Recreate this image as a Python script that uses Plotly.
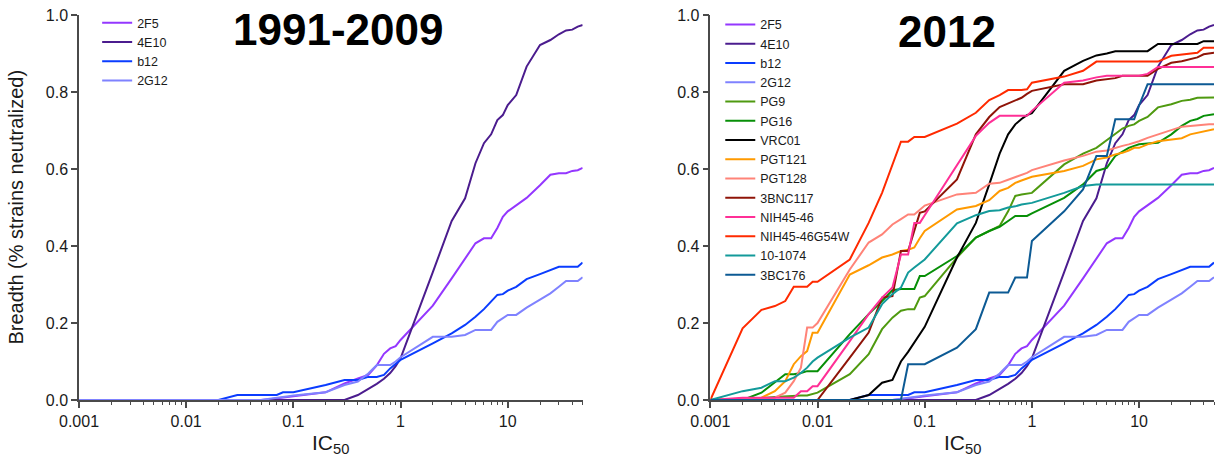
import math
import plotly.graph_objects as go
from plotly.subplots import make_subplots

# IC50 concentrations (ug/ml) at which cumulative breadth is evaluated
IC50_GRID = (
    [0.001, 0.002, 0.003, 0.004, 0.005, 0.006, 0.007, 0.008, 0.009]
    + [0.01, 0.02, 0.03, 0.04, 0.05, 0.06, 0.07, 0.08, 0.09]
    + [0.1, 0.2, 0.3, 0.4, 0.5, 0.6, 0.7, 0.8, 0.9]
    + [1, 2, 3, 4, 5, 6, 7, 8, 9]
    + [10, 12, 15, 20, 25, 30, 35, 40, 45, 50]
)

# Fraction of strains neutralized at or below each IC50
b_2F5 = ([0] * 9
         + [0, 0, 0, 0, 0, 0.002, 0.004, 0.006, 0.008]
         + [0.01, 0.02, 0.043, 0.056, 0.065, 0.09, 0.12, 0.134, 0.14]
         + [0.156, 0.245, 0.316, 0.366, 0.407, 0.42, 0.42, 0.447, 0.476]
         + [0.49, 0.505, 0.525, 0.558, 0.585, 0.589, 0.589, 0.595, 0.597, 0.603])
b_4E10 = ([0] * 9
          + [0] * 9
          + [0, 0, 0, 0.013, 0.028, 0.042, 0.055, 0.07, 0.088]
          + [0.108, 0.332, 0.465, 0.524, 0.615, 0.667, 0.69, 0.727, 0.74]
          + [0.766, 0.792, 0.866, 0.922, 0.935, 0.95, 0.96, 0.962, 0.97, 0.974])
b_b12 = ([0] * 9
         + [0, 0, 0.013, 0.013, 0.013, 0.013, 0.013, 0.02, 0.02]
         + [0.02, 0.039, 0.052, 0.052, 0.06, 0.06, 0.065, 0.082, 0.095]
         + [0.104, 0.147, 0.173, 0.195, 0.216, 0.236, 0.257, 0.273, 0.275]
         + [0.284, 0.294, 0.314, 0.327, 0.338, 0.346, 0.346, 0.346, 0.346, 0.357])
b_2G12 = ([0] * 9
          + [0, 0, 0, 0, 0, 0.003, 0.005, 0.008, 0.01]
          + [0.012, 0.02, 0.039, 0.048, 0.069, 0.091, 0.091, 0.091, 0.1]
          + [0.111, 0.164, 0.164, 0.169, 0.182, 0.182, 0.182, 0.203, 0.212]
          + [0.221, 0.221, 0.24, 0.261, 0.277, 0.294, 0.309, 0.309, 0.309, 0.319])
b_PG9 = ([0, 0.002, 0.005, 0.008, 0.01, 0.012, 0.012, 0.012, 0.015]
         + [0.019, 0.067, 0.119, 0.184, 0.214, 0.232, 0.236, 0.236, 0.266]
         + [0.27, 0.37, 0.422, 0.439, 0.452, 0.49, 0.53, 0.534, 0.536]
         + [0.538, 0.612, 0.64, 0.655, 0.675, 0.69, 0.705, 0.712, 0.716]
         + [0.725, 0.735, 0.76, 0.768, 0.777, 0.78, 0.785, 0.785, 0.786, 0.786])
b_PG16 = ([0, 0, 0.019, 0.045, 0.067, 0.067, 0.07, 0.075, 0.075]
          + [0.075, 0.171, 0.223, 0.257, 0.285, 0.288, 0.288, 0.288, 0.322]
          + [0.322, 0.374, 0.422, 0.439, 0.45, 0.465, 0.478, 0.478, 0.478]
          + [0.485, 0.525, 0.56, 0.595, 0.603, 0.634, 0.645, 0.655, 0.66]
          + [0.664, 0.666, 0.668, 0.69, 0.712, 0.725, 0.73, 0.738, 0.74, 0.742])
b_VRC01 = ([0] * 9
           + [0, 0, 0.013, 0.045, 0.052, 0.1, 0.125, 0.15, 0.17]
           + [0.19, 0.37, 0.46, 0.56, 0.64, 0.69, 0.716, 0.73, 0.74]
           + [0.745, 0.855, 0.881, 0.895, 0.9, 0.906, 0.906, 0.906, 0.906]
           + [0.906, 0.906, 0.925, 0.925, 0.925, 0.925, 0.925, 0.932, 0.932, 0.932])
b_PGT121 = ([0, 0.003, 0.006, 0.023, 0.049, 0.093, 0.114, 0.127, 0.175]
            + [0.175, 0.326, 0.35, 0.37, 0.378, 0.387, 0.39, 0.396, 0.42]
            + [0.439, 0.495, 0.504, 0.519, 0.543, 0.551, 0.564, 0.57, 0.575]
            + [0.58, 0.595, 0.608, 0.625, 0.63, 0.638, 0.642, 0.648, 0.655]
            + [0.655, 0.664, 0.672, 0.677, 0.68, 0.69, 0.694, 0.696, 0.699, 0.703])
b_PGT128 = ([0, 0.003, 0.005, 0.006, 0.019, 0.049, 0.084, 0.188, 0.188]
            + [0.2, 0.339, 0.409, 0.43, 0.456, 0.47, 0.482, 0.482, 0.495]
            + [0.505, 0.534, 0.538, 0.562, 0.564, 0.572, 0.579, 0.585, 0.59]
            + [0.597, 0.622, 0.634, 0.645, 0.648, 0.655, 0.66, 0.664, 0.668]
            + [0.672, 0.681, 0.69, 0.703, 0.71, 0.712, 0.714, 0.714, 0.716, 0.716])
b_3BNC117 = ([0] * 9
             + [0, 0.11, 0.175, 0.266, 0.27, 0.387, 0.387, 0.44, 0.486]
             + [0.49, 0.573, 0.69, 0.735, 0.761, 0.77, 0.777, 0.785, 0.795]
             + [0.803, 0.82, 0.82, 0.83, 0.833, 0.836, 0.842, 0.842, 0.842]
             + [0.842, 0.842, 0.86, 0.876, 0.88, 0.885, 0.89, 0.898, 0.9, 0.902])
b_NIH4546 = ([0, 0.006, 0.006, 0.006, 0.006, 0.006, 0.023, 0.023, 0.036]
             + [0.036, 0.153, 0.223, 0.266, 0.292, 0.378, 0.378, 0.46, 0.46]
             + [0.48, 0.612, 0.686, 0.72, 0.738, 0.738, 0.738, 0.738, 0.738]
             + [0.751, 0.824, 0.83, 0.838, 0.842, 0.842, 0.842, 0.842, 0.842]
             + [0.842, 0.847, 0.865, 0.865, 0.865, 0.865, 0.865, 0.865, 0.865, 0.865])
b_NIH4546G54W = ([0, 0.186, 0.234, 0.244, 0.257, 0.294, 0.294, 0.294, 0.307]
                 + [0.307, 0.365, 0.46, 0.538, 0.612, 0.671, 0.671, 0.683, 0.683]
                 + [0.683, 0.718, 0.746, 0.779, 0.792, 0.805, 0.805, 0.805, 0.807]
                 + [0.824, 0.84, 0.855, 0.879, 0.879, 0.879, 0.879, 0.879, 0.879]
                 + [0.879, 0.879, 0.879, 0.894, 0.897, 0.9, 0.902, 0.915, 0.915, 0.915])
b_101074 = ([0, 0.023, 0.032, 0.049, 0.049, 0.058, 0.07, 0.084, 0.1]
            + [0.11, 0.162, 0.188, 0.249, 0.275, 0.292, 0.331, 0.344, 0.355]
            + [0.365, 0.459, 0.48, 0.491, 0.493, 0.5, 0.503, 0.508, 0.51]
            + [0.512, 0.538, 0.556, 0.56, 0.56, 0.56, 0.56, 0.56, 0.56]
            + [0.56] * 10)
b_3BC176 = ([0] * 9
            + [0, 0, 0, 0, 0, 0, 0.093, 0.093, 0.093]
            + [0.093, 0.136, 0.184, 0.279, 0.279, 0.279, 0.318, 0.318, 0.318]
            + [0.413, 0.49, 0.547, 0.634, 0.634, 0.729, 0.729, 0.729, 0.729]
            + [0.765, 0.82, 0.82, 0.82, 0.82, 0.82, 0.82, 0.82, 0.82, 0.82])

ANTIBODIES_OLD = ["2F5", "4E10", "b12", "2G12"]
ANTIBODIES_NEW = ["2F5", "4E10", "b12", "2G12", "PG9", "PG16", "VRC01", "PGT121",
                  "PGT128", "3BNC117", "NIH45-46", "NIH45-46G54W", "10-1074", "3BC176"]

BREADTH = {
    "2F5": b_2F5, "4E10": b_4E10, "b12": b_b12, "2G12": b_2G12,
    "PG9": b_PG9, "PG16": b_PG16, "VRC01": b_VRC01, "PGT121": b_PGT121,
    "PGT128": b_PGT128, "3BNC117": b_3BNC117, "NIH45-46": b_NIH4546,
    "NIH45-46G54W": b_NIH4546G54W, "10-1074": b_101074, "3BC176": b_3BC176,
}

COLORS = {
    "2F5": "#9437ff", "4E10": "#4b1c8e", "b12": "#0a3cff", "2G12": "#7f82ff",
    "PG9": "#4f9a10", "PG16": "#078f07", "VRC01": "#000000", "PGT121": "#ff9a00",
    "PGT128": "#ff8378", "3BNC117": "#8f1408", "NIH45-46": "#ff2f96",
    "NIH45-46G54W": "#ff2a00", "10-1074": "#139a9a", "3BC176": "#0c5a94",
}

FONT = "Arial, Liberation Sans, sans-serif"
AXIS_COLOR = "#4a4a4a"
TEXT_COLOR = "#1a1a1a"

fig = make_subplots(rows=1, cols=2, horizontal_spacing=0.1125)

for name in ANTIBODIES_OLD:
    fig.add_trace(go.Scatter(x=IC50_GRID, y=BREADTH[name], mode="lines", name=name,
                             line=dict(color=COLORS[name], width=2),
                             legend="legend"), row=1, col=1)
for name in ANTIBODIES_NEW:
    fig.add_trace(go.Scatter(x=IC50_GRID, y=BREADTH[name], mode="lines", name=name,
                             line=dict(color=COLORS[name], width=2),
                             legend="legend2"), row=1, col=2)

major_ticks = [0.001, 0.01, 0.1, 1, 10]
minor_ticks = [m * 10 ** k for k in range(-3, 2) for m in range(2, 10) if m * 10 ** k <= 50]

xaxis_style = dict(
    type="log", range=[-3, math.log10(50)],
    tickvals=major_ticks, ticktext=["0.001", "0.01", "0.1", "1", "10"],
    ticks="outside", ticklen=6, tickwidth=1.5, tickcolor=AXIS_COLOR,
    minor=dict(tickvals=minor_ticks, ticks="outside", ticklen=3, tickwidth=1,
               tickcolor=AXIS_COLOR, showgrid=False),
    showline=True, linecolor=AXIS_COLOR, linewidth=1.5,
    showgrid=False, zeroline=False,
    tickfont=dict(family=FONT, size=16, color=TEXT_COLOR),
)
yaxis_style = dict(
    range=[0, 1], tickvals=[0, 0.2, 0.4, 0.6, 0.8, 1.0], tickformat=".1f",
    ticks="outside", ticklen=6, tickwidth=1.5, tickcolor=AXIS_COLOR,
    showline=True, linecolor=AXIS_COLOR, linewidth=1.5,
    showgrid=False, zeroline=False,
    tickfont=dict(family=FONT, size=16, color=TEXT_COLOR),
)
fig.update_xaxes(**xaxis_style)
fig.update_yaxes(**yaxis_style)

legend_common = dict(xanchor="left", yanchor="top", font=dict(family=FONT, size=12.5),
                     tracegroupgap=0, bgcolor="rgba(0,0,0,0)", maxheight=440)
fig.update_layout(
    width=1215, height=459,
    margin=dict(l=79, r=1, t=15, b=59),
    paper_bgcolor="white", plot_bgcolor="white",
    font=dict(family=FONT, color=TEXT_COLOR),
    legend=dict(x=0.016, y=1.018, **legend_common),
    legend2=dict(x=0.565, y=1.013, **legend_common),
)

d1 = fig.layout.xaxis.domain
d2 = fig.layout.xaxis2.domain
fig.add_annotation(text="<b>1991-2009</b>", x=0.2282, y=0.963, xref="paper", yref="paper",
                   xanchor="center", yanchor="middle", showarrow=False,
                   font=dict(family=FONT, size=44, color="black"))
fig.add_annotation(text="<b>2012</b>", x=0.765, y=0.958, xref="paper", yref="paper",
                   xanchor="center", yanchor="middle", showarrow=False,
                   font=dict(family=FONT, size=44, color="black"))
for dom in (d1, d2):
    fig.add_annotation(text="IC<sub>50</sub>", x=(dom[0] + dom[1]) / 2, y=-0.115,
                       xref="paper", yref="paper", xanchor="center", yanchor="middle",
                       showarrow=False, font=dict(family=FONT, size=21, color=TEXT_COLOR))
fig.add_annotation(text="Breadth (% strains neutralized)", textangle=-90,
                   x=0, y=0.5, xref="paper", yref="paper", xshift=-64,
                   xanchor="center", yanchor="middle", showarrow=False,
                   font=dict(family=FONT, size=20, color=TEXT_COLOR))

fig.write_html("out.html")
